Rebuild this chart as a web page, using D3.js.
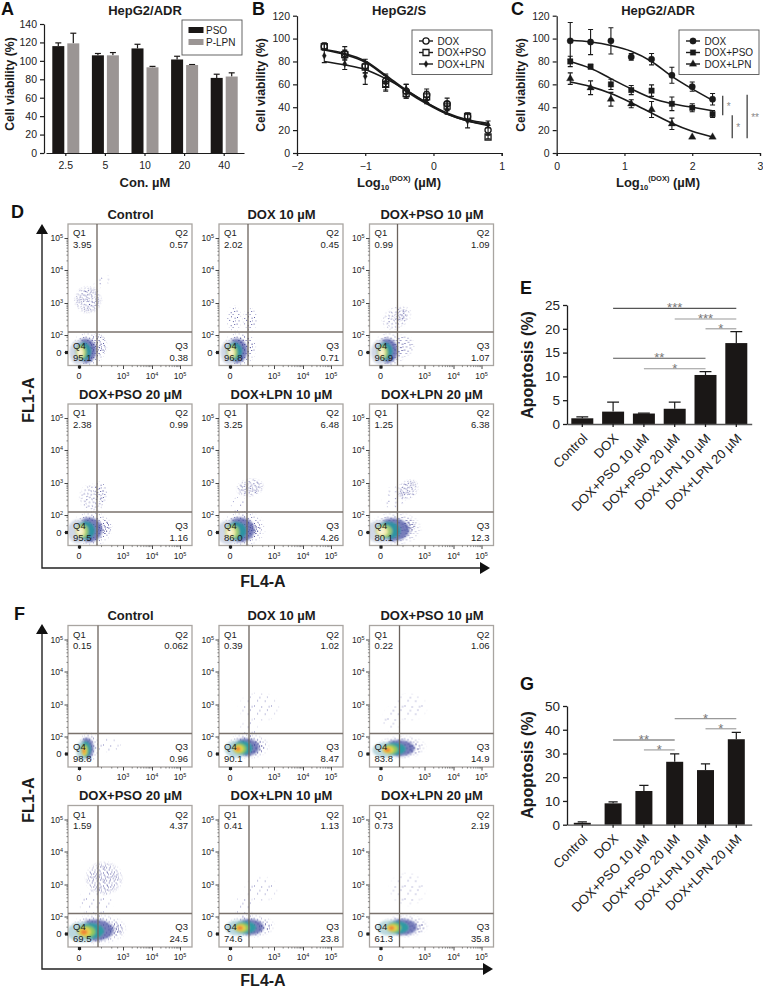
<!DOCTYPE html>
<html><head><meta charset="utf-8">
<script src="https://cdn.jsdelivr.net/npm/d3@7"></script>
<style>
html,body{margin:0;padding:0;background:#fff}
svg{display:block}
text{font-family:"Liberation Sans",Arial,sans-serif;fill:#1c1c1c}
.b{font-weight:bold}
</style></head><body>
<svg id="c" width="763" height="989" viewBox="0 0 763 989"></svg>
<script>
// ---------- DATA ----------
const concentrations = ["2.5","5","10","20","40"];
const barSeries = ["PSO","P-LPN"];
const psoVal = [116,106,113.5,101.5,81.5];
const psoTop = [119.5,108,118,105,85.5];
const lpnVal = [119,106,93,95.5,83];
const lpnTop = [130,109,94,96,87];

const logB = [-1.6,-1.3,-1,-0.7,-0.4,-0.1,0.2,0.5,0.8];
const bDox = [93,87,76,63,54,51,43,32,20];
const bDoxErr = [3,6,6,5,6,5,5,3,4];
const bDoxFit = [90.5,87,80.5,68,55,44,35,29,26];
const bPso = [93,86,75,60,52,49,41,32,14];
const bPsoErr = [3,4,5,6,4,5,4,3,1.5];
const bPsoFit = [90,86,79.5,67,54,43,34,28,25];
const bLpn = [85,78,67,62,56,46,38,28,25];
const bLpnErr = [6,5,7,7,4,3,4,6,3];
const bLpnFit = [80,77,73,65,55,44,34,28,24];

const logC = [0.2,0.5,0.8,1.1,1.4,1.7,2,2.3];
const cDox = [98,97,98,84,82,68,58,47];
const cDoxErr = [16,11,11.5,3,5,7,4,5];
const cDoxFit = [98.5,97,94,89,80,67,56,46];
const cPso = [80,75.5,60,55,54.5,43,39.5,34];
const cPsoErr = [4.5,2,4.5,4,5,6,3.5,3];
const cPsoFit = [80,74,65,56,48,43,40,37];
const cLpn = [65,57,47,43,38,25.5,14,14];
const cLpnErr = [5,6,6,3.5,7,5,0,0];
const cLpnFit = [62,58,52,44,35,26,19,14];
const cBrackets = [[2.45,50,33,"*"],[2.59,33,13,"*"],[2.81,51,13,"**"]];

const apoCats = ["Control","DOX","DOX+PSO 10 µM","DOX+PSO 20 µM","DOX+LPN 10 µM","DOX+LPN 20 µM"];
const eVal = [1.2,2.6,2.2,3.2,10.3,17];
const eTop = [1.5,4.6,2.3,4.6,11,19.4];
const eSig = [[1,5,24.3,"***",1],[3,5,22.06,"***",0],[4,5,20,"*",0],[1,4,13.8,"**",1],[2,4,11.6,"*",0]];
const gVal = [0.8,9,14.2,26.5,23,36];
const gTop = [1.2,9.6,16.6,29.8,25.6,38.9];
const gSig = [[3,5,44.7,"*",0],[4,5,40.4,"*",0],[1,3,35.7,"**",1],[2,3,31.5,"*",0]];

const facsTitles = ["Control","DOX 10 µM","DOX+PSO 10 µM","DOX+PSO 20 µM","DOX+LPN 10 µM","DOX+LPN 20 µM"];
const dQuad = [["3.95","0.57","0.38","95.1"],["2.02","0.45","0.71","96.8"],["0.99","1.09","1.07","96.9"],
               ["2.38","0.99","1.16","95.5"],["3.25","6.48","4.26","86.0"],["1.25","6.38","12.3","80.1"]];
const fQuad = [["0.15","0.062","0.96","98.8"],["0.39","1.02","8.47","90.1"],["0.22","1.06","14.9","83.8"],
               ["1.59","4.37","24.5","69.5"],["0.41","1.13","23.8","74.6"],["0.73","2.19","35.8","61.3"]];
// dense population: [cx, cy, rx, ry, hotX, hotY] in plot channels
const dCores = [[18,15,14,15,12,13],[18,15,14,15,12,13],[18,15,14,15,12,13],[22,16,17,15,12,14],[22,16,19,15,11,13],[24,16,22,14,12,14]];
const fCores = [[19,19,9,13,16,16],[27,20,18,11,19,18],[30,19,21,10,18,17],[28,17,24,13,16,15],[30,20,20,10,21,19],[33,20,20,10,22,19]];
// sparse populations: [cx, cy, rx, ry, rotation, density]
const dClouds = [
 [[20,66,15,15,-35,2],[30,20,10,13,0,2],[34,84,10,6,-30,0]],
 [[15,47,8,14,0,1],[31,46,8,13,0,1],[26,20,12,12,0,1]],
 [[27,48,17,12,-30,1],[31,50,8,6,-30,2],[34,20,12,12,0,1]],
 [[25,48,15,15,-20,1],[32,54,8,11,0,1],[36,18,8,9,0,2]],
 [[31,58,15,10,-10,2],[20,40,9,10,0,0],[34,17,9,8,0,2]],
 [[38,56,13,10,-40,2],[26,48,15,13,-30,0],[40,20,7,8,0,2]]];
const fClouds = [
 [[40,22,14,8,0,0]],
 [[40,60,22,16,0,0],[30,38,10,10,0,0],[38,20,10,8,0,1]],
 [[40,60,19,15,0,0],[22,48,10,14,0,0],[44,19,8,7,0,1]],
 [[36,69,20,18,0,2],[28,45,19,16,0,0],[48,18,8,8,0,2]],
 [[42,58,18,14,0,0],[25,40,10,14,0,0],[46,20,7,6,0,1]],
 [[38,58,20,18,0,0],[50,20,6,6,0,1]]];
const corePaletteD = ["#cfd6e6","#434c9f","#2f93a3","#9ccb74","#f0e8a8","#f8f3d6"];
const corePaletteF = ["#b7d6dc","#434c9f","#2f9ba3","#8fc860","#e9d24e","#ec8437"];

// ---------- HELPERS ----------
const svg = d3.select("#c");
const defs = svg.append("defs");
const stipple = [[1,2],[8.2,3],[15.6,2.7],[6.4,6.6],[13.9,6.1],[4.1,9.7],[11.7,10.2],[4.5,.8],[12,1.3],[2.6,5.4],[10.2,4.9],[.6,8.6],[8,8.4],[15.2,9],[2.4,12],[6.7,11.8],[9.6,12.4],[13.6,12.2],[16.4,5.4],[6,3.4],[3,7.6],[10.7,7.4],[14.4,3.9],[12.8,8.4],[.8,11],[5,1.9],[9.3,1.2],[14.6,.4],[7.4,9.9],[11.2,3.2],[1.7,3.9],[4.8,6],[8.6,6],[12.4,5.4],[15.9,7.3],[2,9.6],[5.6,8.3],[9.6,10.2],[13.4,10.6],[16.2,11.5]];
[["st0",7],["st1",20],["st2",36]].forEach(([id,n])=>{
  const p=defs.append("pattern").attr("id",id).attr("patternUnits","userSpaceOnUse").attr("width",17).attr("height",13);
  p.selectAll("rect").data(stipple.slice(0,n)).join("rect").attr("x",d=>d[0]).attr("y",d=>d[1]).attr("width",1).attr("height",1).attr("fill",id=="st0"?"#8080bc":"#5c5ca4");
});
const rg=defs.append("radialGradient").attr("id","fade");
rg.append("stop").attr("offset","65%").attr("stop-color","#fff");
rg.append("stop").attr("offset","100%").attr("stop-color","#000");
defs.append("mask").attr("id","fm").append("ellipse").attr("cx",.5).attr("cy",.5).attr("rx",.5).attr("ry",.5).attr("fill","url(#fade)");
defs.select("#fm").attr("maskContentUnits","objectBoundingBox");
defs.append("filter").attr("id","soft").attr("x","-30%").attr("y","-30%").attr("width","160%").attr("height","160%").append("feGaussianBlur").attr("stdDeviation",1.1);

const T=(g,x,y,s,size,opts={})=>{
  const t=g.append("text").attr("x",x).attr("y",y).attr("font-size",size).text(s);
  if(opts.bold)t.attr("font-weight","bold");
  if(opts.anchor)t.attr("text-anchor",opts.anchor);
  if(opts.rot!==undefined)t.attr("transform",`rotate(${opts.rot} ${x} ${y})`);
  if(opts.fill)t.style("fill",opts.fill);
  return t;
};
const styleAxis=(g,w,size)=>{
  g.selectAll("path,line").attr("stroke","#1c1c1c").attr("stroke-width",w);
  g.selectAll("text").attr("font-size",size).attr("font-family",null).style("fill","#222");
};
const mkLine=(x,y)=>d3.line().x(d=>x(d[0])).y(d=>y(d[1])).curve(d3.curveMonotoneX);

// ---------- PANEL A ----------
{
  const x=d3.scaleBand().domain(concentrations).range([46,244]);
  const x1=d3.scaleBand().domain(barSeries).range([0,x.bandwidth()]).paddingInner(.2).paddingOuter(.42);
  const y=d3.scaleLinear().domain([0,140]).range([153,24]);
  const g=svg.append("g");
  const rows=[[ "PSO",psoVal,psoTop,"#1a1716"],["P-LPN",lpnVal,lpnTop,"#9b9594"]];
  rows.forEach(([s,v,top,col])=>{
    concentrations.forEach((c,i)=>{
      const cx=x(c)+x1(s)+x1.bandwidth()/2;
      g.append("line").attr("x1",cx).attr("x2",cx).attr("y1",y(v[i])).attr("y2",y(top[i])).attr("stroke","#1a1716").attr("stroke-width",1.2);
      g.append("line").attr("x1",cx-3).attr("x2",cx+3).attr("y1",y(top[i])).attr("y2",y(top[i])).attr("stroke","#1a1716").attr("stroke-width",1.2);
      g.append("rect").attr("x",x(c)+x1(s)).attr("width",x1.bandwidth()).attr("y",y(v[i])).attr("height",y(0)-y(v[i])).attr("fill",col);
    });
  });
  const ax=g.append("g").attr("transform","translate(0,153)").call(d3.axisBottom(x).tickSize(3).tickSizeOuter(0));
  styleAxis(ax,1.2,10.5); ax.selectAll("text").attr("dy","0.95em");
  const ay=g.append("g").attr("transform","translate(44,0)").call(d3.axisLeft(y).tickValues(d3.range(0,141,20)).tickSize(4).tickSizeOuter(0));
  styleAxis(ay,1.2,10.5);
  T(g,145,14.5,"HepG2/ADR",13,{bold:1,anchor:"middle"});
  T(g,14,84,"Cell viability (%)",12.2,{bold:1,anchor:"middle",rot:-90});
  T(g,145,187,"Con. µM",13,{bold:1,anchor:"middle"});
  g.append("rect").attr("x",182).attr("y",20).attr("width",60).attr("height",35).attr("fill","#fff").attr("stroke","#555").attr("stroke-width",.9);
  rows.forEach(([s,,,col],i)=>{
    const ly=d3.scalePoint().domain(barSeries).range([30,42])(s);
    g.append("rect").attr("x",188.5).attr("y",ly-3).attr("width",15).attr("height",6).attr("fill",col);
    T(g,206,ly+3.5,s,10);
  });
}

// ---------- PANELS B, C ----------
function curvePanel(o){
  const g=svg.append("g");
  const x=d3.scaleLinear().domain(o.dom).range(o.rng);
  const y=d3.scaleLinear().domain([0,120]).range([153,15.7]);
  const ln=mkLine(x,y);
  const sym=(t,s)=>d3.symbol().type(t).size(s)();
  o.series.forEach(s=>{
    g.append("path").attr("d",ln(o.xs.map((v,i)=>[v,s.fit[i]]))).attr("fill","none").attr("stroke","#1a1a1a").attr("stroke-width",1.6);
    o.xs.forEach((v,i)=>{
      const cx=x(v),t=y(s.val[i]+s.err[i]),b=y(s.val[i]-s.err[i]);
      if(s.err[i]>0){
        g.append("path").attr("d",`M${cx},${t}V${b}M${cx-2.5},${t}h5M${cx-2.5},${b}h5`).attr("stroke","#1a1a1a").attr("stroke-width",1.1).attr("fill","none");
      }
      g.append("path").attr("transform",`translate(${cx},${y(s.val[i])})`).attr("d",sym(s.type,s.size))
       .attr("fill",s.open?"none":"#1a1a1a").attr("stroke","#1a1a1a").attr("stroke-width",s.open?1.3:.3);
    });
  });
  const ax=g.append("g").attr("transform","translate(0,153)").call(d3.axisBottom(x).tickValues(o.ticks).tickSize(3).tickFormat(d=>d3.format("")(d).replace("-","\u2212")));
  styleAxis(ax,1.2,10.5); ax.selectAll("text").attr("dy","1em");
  const ay=g.append("g").attr("transform",`translate(${o.rng[0]},0)`).call(d3.axisLeft(y).tickValues(d3.range(0,121,20)).tickSize(4).tickSizeOuter(0));
  styleAxis(ay,1.2,10.5);
  T(g,o.cx,15,o.title,13,{bold:1,anchor:"middle"});
  T(g,o.ylx,85,"Cell viability (%)",12.2,{bold:1,anchor:"middle",rot:-90});
  const lab=T(g,o.cx,187,"Log",13,{bold:1,anchor:"middle"});
  lab.append("tspan").attr("font-size",7.5).attr("dy",3).text("10");
  lab.append("tspan").attr("font-size",7.5).attr("dy",-9).text("(DOX)");
  lab.append("tspan").attr("dy",6).text(" (µM)");
  g.append("rect").attr("x",o.lg[0]).attr("y",30).attr("width",o.lg[1]).attr("height",44.5).attr("fill","#fff").attr("stroke","#555").attr("stroke-width",.9);
  o.series.forEach((s,i)=>{
    const ly=[41,52.5,64][i];
    g.append("line").attr("x1",o.lg[2]-7).attr("x2",o.lg[2]+7).attr("y1",ly).attr("y2",ly).attr("stroke","#1a1a1a").attr("stroke-width",1.4);
    g.append("path").attr("transform",`translate(${o.lg[2]},${ly})`).attr("d",sym(s.type,s.size)).attr("fill",s.open?"#fff":"#1a1a1a").attr("stroke","#1a1a1a").attr("stroke-width",s.open?1.3:.3);
    T(g,o.lg[2]+11.5,ly+3.5,s.name,10);
  });
  return {g,x,y};
}
curvePanel({dom:[-2,1],rng:[297,501.7],xs:logB,ticks:[-2,-1,0,1],cx:399,title:"HepG2/S",ylx:265,lg:[412,80,426],
 series:[{name:"DOX",val:bDox,err:bDoxErr,fit:bDoxFit,type:d3.symbolCircle,size:30,open:1},
         {name:"DOX+PSO",val:bPso,err:bPsoErr,fit:bPsoFit,type:d3.symbolSquare,size:36,open:1},
         {name:"DOX+LPN",val:bLpn,err:bLpnErr,fit:bLpnFit,type:d3.symbolDiamond,size:14,open:0}]});
{
  const {g,x,y}=curvePanel({dom:[0,3],rng:[556.7,760],xs:logC,ticks:[0,1,2,3],cx:658,title:"HepG2/ADR",ylx:525,lg:[679,80,693],
   series:[{name:"DOX",val:cDox,err:cDoxErr,fit:cDoxFit,type:d3.symbolCircle,size:32,open:0},
           {name:"DOX+PSO",val:cPso,err:cPsoErr,fit:cPsoFit,type:d3.symbolSquare,size:30,open:0},
           {name:"DOX+LPN",val:cLpn,err:cLpnErr,fit:cLpnFit,type:d3.symbolTriangle,size:24,open:0}]});
  cBrackets.forEach(([bx,a,b,s])=>{
    g.append("line").attr("x1",x(bx)).attr("x2",x(bx)).attr("y1",y(a)).attr("y2",y(b)).attr("stroke","#333").attr("stroke-width",1.2);
    T(g,x(bx)+(s=="**"?8:6),y((a+b)/2)+4.5,s,10,{anchor:"middle",fill:"#888"});
  });
}

// ---------- PANELS E, G ----------
function apoPanel(o){
  const g=svg.append("g");
  const x=d3.scaleBand().domain(apoCats).range([566.9,751.7]).paddingInner(o.pi).paddingOuter(o.pi/2);
  const y=d3.scaleLinear().domain([0,o.max]).range(o.yr);
  apoCats.forEach((c,i)=>{
    const cx=x(c)+x.bandwidth()/2;
    g.append("path").attr("d",`M${cx},${y(o.val[i])}V${y(o.top[i])}M${cx-x.bandwidth()*.27},${y(o.top[i])}h${x.bandwidth()*.54}`).attr("stroke","#1a1a1a").attr("stroke-width",1.2).attr("fill","none");
    g.append("rect").attr("x",x(c)).attr("width",x.bandwidth()).attr("y",y(o.val[i])).attr("height",y(0)-y(o.val[i])).attr("fill","#1a1716");
  });
  const ax=g.append("g").attr("transform",`translate(0,${o.yr[0]})`).call(d3.axisBottom(x).tickSize(3).tickSizeOuter(0));
  styleAxis(ax,1.3,13);
  ax.selectAll("path").attr("stroke","#555");
  ax.selectAll("text").attr("text-anchor","end").attr("dy",0).attr("y",0)
    .attr("transform","translate(6,15) rotate(-45)");
  const ay=g.append("g").attr("transform","translate(567,0)").call(d3.axisLeft(y).tickValues(o.ticks).tickSize(4).tickSizeOuter(0));
  styleAxis(ay,1.3,13.5);
  T(g,532.5,o.yc,"Apoptosis (%)",16,{bold:1,anchor:"middle",rot:-90});
  o.sig.forEach(([a,b,v,s,dark])=>{
    const x0=x(apoCats[a])+x.bandwidth()/2,x1=x(apoCats[b])+x.bandwidth()/2;
    g.append("line").attr("x1",x0).attr("x2",x1).attr("y1",y(v)).attr("y2",y(v)).attr("stroke",dark?"#555":"#999").attr("stroke-width",1.1);
    T(g,(x0+x1)/2,y(v)+4,s,13,{anchor:"middle",fill:"#777"});
  });
}
apoPanel({val:eVal,top:eTop,sig:eSig,pi:.286,max:25,yr:[424,305],ticks:[0,5,10,15,20,25],yc:365});
apoPanel({val:gVal,top:gTop,sig:gSig,pi:.448,max:50,yr:[824.7,706],ticks:[0,10,20,30,40,50],yc:765});

// ---------- FLOW CYTOMETRY ----------
const decY=[0,2,3,4,5], decX=[0,3,4,5];
const minorOff=[.3,.48,.6,.7,.78,.85,.9,.95];
function facs(title,quad,core,clouds,fx,fy,vg,palette,tBase){
  const W=124,H=141.5;
  const g=svg.append("g").attr("transform",`translate(${fx},${fy})`);
  const cx=d3.scaleLinear().domain([0,124]).range([0,W]);
  const cy=d3.scaleLinear().domain([0,142]).range([H,0]);
  const xs=d3.scaleLinear().domain(decX).range([11,55,84,112]);
  const ys=d3.scaleLinear().domain(decY).range([128,111,79,46,14]);
  const minorY=[.8,1.4,1.8].concat(...[2,3,4].map(d=>minorOff.map(m=>d+m)));
  const minorX=[1.5,2.2,2.6].concat(...[3,4].map(d=>minorOff.map(m=>d+m)));
  const clip="clip"+fx+"_"+fy;
  defs.append("clipPath").attr("id",clip).append("rect").attr("width",W).attr("height",H);
  const inner=g.append("g").attr("clip-path",`url(#${clip})`);
  clouds.forEach(([a,b,rx,ry,rot,den])=>{
    inner.append("ellipse").attr("cx",cx(a)).attr("cy",cy(b)).attr("rx",rx).attr("ry",ry)
      .attr("transform",`rotate(${rot} ${cx(a)} ${cy(b)})`)
      .attr("fill",`url(#st${den})`).attr("mask","url(#fm)");
  });
  const [a,b,rx,ry,hx,hy]=core;
  inner.append("ellipse").attr("cx",cx(a+2)).attr("cy",cy(b+1)).attr("rx",rx*1.25).attr("ry",ry*1.25).attr("fill","url(#st1)").attr("mask","url(#fm)");
  const blob=inner.append("g").attr("filter","url(#soft)");
  const [halo,blue,teal,green,yellow,hot]=palette;
  const add=(ox,oy,kx,ky,col,op=1)=>blob.append("ellipse").attr("cx",cx(ox)).attr("cy",cy(oy)).attr("rx",kx).attr("ry",ky).attr("fill",col).attr("opacity",op);
  const mid=t=>[hx+(a-hx)*t,hy+(b-hy)*t];
  add(...mid(.9),rx*.78,ry*.82,blue,.72);
  add(hx-2,hy,rx*.62,ry*.78,halo,.95);
  add(...mid(.55),rx*.55,ry*.6,teal);
  add(...mid(.2),rx*.38,ry*.48,green);
  add(...mid(.05),rx*.27,ry*.36,yellow);
  add(hx,hy,rx*.14,ry*.2,hot);
  // frame and gates
  g.append("rect").attr("width",W).attr("height",H).attr("fill","none").attr("stroke","#a9a5a1").attr("stroke-width",1.3);
  g.append("line").attr("x1",cx(vg)).attr("x2",cx(vg)).attr("y1",0).attr("y2",H).attr("stroke","#6b635d").attr("stroke-width",1.3);
  g.append("line").attr("x1",0).attr("x2",W).attr("y1",ys(2)-3).attr("y2",ys(2)-3).attr("stroke","#7a726c").attr("stroke-width",1.3);
  // axes
  const ayMin=g.append("g").call(d3.axisLeft(ys).tickValues(minorY).tickSize(1.6).tickFormat(""));
  ayMin.select("path").remove(); ayMin.selectAll("line").attr("stroke","#444").attr("stroke-width",.6);
  const ayMaj=g.append("g").call(d3.axisLeft(ys).tickValues(decY).tickSize(3.5).tickFormat(""));
  ayMaj.select("path").remove(); ayMaj.selectAll("line").attr("stroke","#333").attr("stroke-width",.9);
  const axMin=g.append("g").attr("transform",`translate(0,${H})`).call(d3.axisBottom(xs).tickValues(minorX).tickSize(1.6).tickFormat(""));
  axMin.select("path").remove(); axMin.selectAll("line").attr("stroke","#444").attr("stroke-width",.6);
  const axMaj=g.append("g").attr("transform",`translate(0,${H})`).call(d3.axisBottom(xs).tickValues(decX).tickSize(3.5).tickFormat(""));
  axMaj.select("path").remove(); axMaj.selectAll("line").attr("stroke","#333").attr("stroke-width",.9);
  g.append("g").call(d3.axisLeft(ys).tickValues([0]).tickSize(3).tickFormat("")).call(s=>{s.select("path").remove();s.selectAll("line").attr("stroke","#222").attr("stroke-width",3.2)});
  g.append("g").attr("transform",`translate(0,${H})`).call(d3.axisBottom(xs).tickValues([0]).tickSize(3).tickFormat("")).call(s=>{s.select("path").remove();s.selectAll("line").attr("stroke","#222").attr("stroke-width",3.2)});
  decY.forEach(d=>{
    if(d==0){T(g,-6.5,ys(0)+3.5,"0",9.5,{anchor:"end"});return;}
    const t=T(g,-5,ys(d)+3,"10",8.5,{anchor:"end"});
    t.append("tspan").attr("font-size",5.5).attr("dy",-3).text(d);
  });
  decX.forEach(d=>{
    if(d==0){T(g,xs(0),H+13.5,"0",9,{anchor:"middle"});return;}
    const t=T(g,xs(d),H+13,"10",8.5,{anchor:"middle"});
    t.append("tspan").attr("font-size",5.5).attr("dy",-3).text(d);
  });
  // quadrant labels
  T(g,5,12,"Q1",9.5); T(g,5,23.5,quad[0],9.5);
  T(g,W-4,12,"Q2",9.5,{anchor:"end"}); T(g,W-4,23.5,quad[1],9.5,{anchor:"end"});
  T(g,W-4,H-17,"Q3",9.5,{anchor:"end"}); T(g,W-4,H-5,quad[2],9.5,{anchor:"end"});
  T(g,5,H-17,"Q4",9.5); T(g,5,H-5,quad[3],9.5);
  T(g,W/2+.5,tBase,title,13,{bold:1,anchor:"middle"});
}
const colX=[68,219,369.5];
[0,1,2,3,4,5].forEach(i=>{
  const c=colX[i%3];
  facs(facsTitles[i],dQuad[i],dCores[i],dClouds[i],c,i<3?224:404,[29,29,28,29,28,28][i],corePaletteD,-5.5);
  facs(facsTitles[i],fQuad[i],fCores[i],fClouds[i],c,i<3?625.5:805.5,[30,30,30,30,30,30][i],corePaletteF,-5.5);
});

// outer arrows & labels
function frameAxes(top,bottom,right,lx,ly,bx,by){
  const g=svg.append("g");
  g.append("path").attr("d",`M42,${top+6}V${bottom}H${right-6}`).attr("fill","none").attr("stroke","#222").attr("stroke-width",1.4);
  g.append("path").attr("d",d3.line()([[42,top],[36,top+10],[48,top+10]])+"Z").attr("fill","#111");
  g.append("path").attr("d",d3.line()([[right,bottom],[right-10,bottom-6],[right-10,bottom+6]])+"Z").attr("fill","#111");
  T(g,lx,ly,"FL1-A",16,{bold:1,anchor:"middle",rot:-90});
  T(g,bx,by,"FL4-A",16,{bold:1,anchor:"middle"});
}
frameAxes(224,568,490,34,400,263,587);
frameAxes(624,969,493,34,800,263,985.5);

// panel letters
[["A",1,14.5],["B",252,14.5],["C",511,14.5],["D",11,218],["E",520,294],["F",14,620],["G",520,690]].forEach(([s,x,y])=>T(svg,x,y,s,18,{bold:1,fill:"#111"}));
</script>
</body></html>
